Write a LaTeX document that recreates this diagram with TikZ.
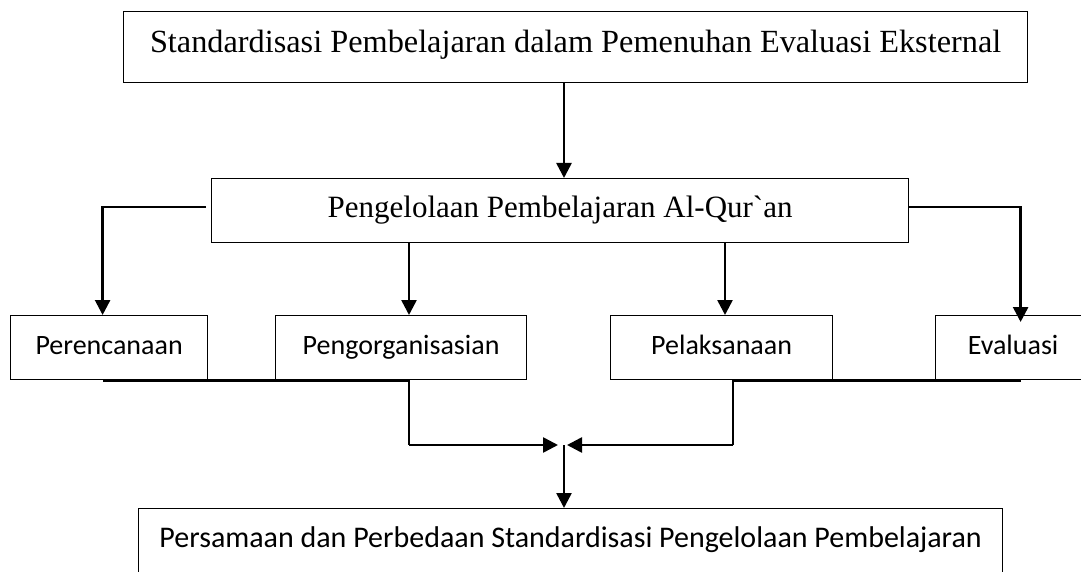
\documentclass[tikz,border=0pt]{standalone}
\usepackage{fontspec}
\setmainfont{Liberation Serif}
\newfontfamily\calibrifont{Carlito}
\usetikzlibrary{arrows.meta}

\begin{document}
\begin{tikzpicture}[x=1pt, y=-1pt,
    box/.style={draw, line width=1.2pt, inner sep=0pt, anchor=north west},
    serifbox/.style={box, font=\fontsize{31}{37}\selectfont},
    sansbox/.style={box, text height=39pt, text depth=25pt, font=\calibrifont\fontsize{28}{34}\selectfont},
    conn/.style={line width=2.6pt},
    arr/.style={conn, -{Triangle[width=15pt, length=15pt]}}]
      \useasboundingbox (0,0) rectangle (1081,572);

      \node[serifbox, minimum width=904pt, text height=41pt, text depth=30pt, font=\fontsize{32.3}{39}\selectfont] (standar) at (123,11) {Standardisasi Pembelajaran dalam Pemenuhan Evaluasi Eksternal};
      \node[serifbox, minimum width=697pt, text height=39pt, text depth=25pt] (kelola) at (211,178) {Pengelolaan Pembelajaran Al-Qur\textasciigrave an};

      \node[sansbox, minimum width=197pt] (rencana) at (10,315) {Perencanaan};
      \node[sansbox, minimum width=251pt] (organisasi) at (275,315) {Pengorganisasian};
      \node[sansbox, minimum width=222pt] (laksana) at (610,315) {Pelaksanaan};
      \node[sansbox, minimum width=155pt] (evaluasi) at (935,315) {Evaluasi};

      \node[sansbox, minimum width=864pt, font=\calibrifont\fontsize{30}{36}\selectfont] (hasil) at (138,508) {Persamaan dan Perbedaan Standardisasi Pengelolaan Pembelajaran};

      \coordinate (kiri) at (409,445);
      \coordinate (kanan) at (733,445);
      \coordinate (gabung) at (564,445);

      \draw[arr] (standar.south -| gabung) -- (kelola.north -| gabung);
      \draw[arr] ([xshift=-5pt]kelola.north west |- 0,207) -| ([xshift=-6.5pt]rencana.north);
      \draw[arr] (kelola.north east |- 0,207) -| ([xshift=7.5pt, yshift=-7pt]evaluasi.north);
      \draw[arr] (kelola.south -| kiri) -- (organisasi.north -| kiri);
      \draw[arr] (kelola.south -| 725,0) -- (laksana.north -| 725,0);

      \draw[conn] ([xshift=-6.5pt]rencana.south) -- (rencana.south -| kiri) -- (kiri);
      \draw[arr] (kiri) -- ([xshift=-6pt]gabung);
      \draw[conn] ([xshift=7.5pt]evaluasi.south) -- (evaluasi.south -| kanan) -- (kanan);
      \draw[arr] (kanan) -- ([xshift=3pt]gabung);
      \draw[arr] (gabung) -- (hasil.north -| gabung);
    \end{tikzpicture}
\end{document}
